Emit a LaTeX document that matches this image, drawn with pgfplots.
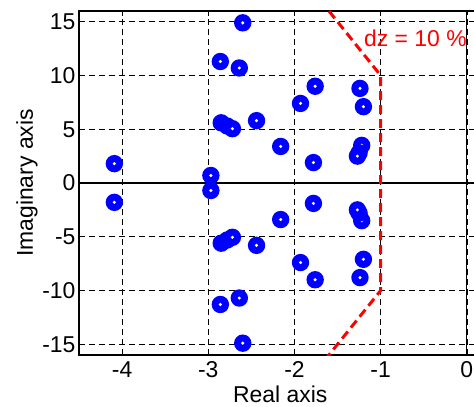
\documentclass[border=0pt]{standalone}
\usepackage{fontspec}
\setmainfont{Liberation Sans}
\usepackage{pgfplots}
\pgfplotsset{compat=1.18}
\pgfdeclareplotmark{ring}{%
  \pgfpathcircle{\pgfpointorigin}{8.7bp}%
  \pgfsetfillcolor{blue}\pgfusepath{fill}%
  \pgfpathcircle{\pgfpointorigin}{1.7bp}%
  \pgfsetfillcolor{white}\pgfusepath{fill}}
\begin{document}
\begin{tikzpicture}
\begin{scope}
\clip (-79bp,-52bp) rectangle (395bp,355bp);
\begin{axis}[
  scale only axis,
  width=402.5bp, height=344bp,
  xmin=-4.5, xmax=0.17, ymin=-16, ymax=16,
  xtick={-4,-3,-2,-1,0}, ytick={-15,-10,-5,0,5,10,15},
  /pgf/number format/assume math mode=true,
  tick label style={font=\fontsize{23}{27}\selectfont},
  xticklabel style={yshift=-3bp},
  label style={font=\fontsize{23}{27}\selectfont},
  xlabel={Real axis}, ylabel={Imaginary axis},
  xlabel style={at={(axis description cs:0.5,0)}, anchor=base, yshift=-47bp},
  ylabel style={at={(axis description cs:-0.1143,0.5)}, anchor=base},
  grid=major,
  major grid style={black, line width=0.6bp, dash pattern=on 6bp off 4bp},
  axis line style={black, line width=1.2bp},
  tick style={black, line width=0.8bp},
  major tick length=5bp,
  tick align=inside,
  clip=true,
]
\addplot[only marks, mark=ring] coordinates {
(-2.60,14.9) (-2.86,11.3) (-2.64,10.7) (-1.76,9.0) (-1.93,7.4) (-1.24,8.8) (-1.20,7.1)
(-2.44,5.8) (-2.85,5.6) (-2.78,5.3) (-2.72,5.05) (-2.16,3.4) (-1.78,1.9)
(-1.22,3.5) (-1.25,2.8) (-1.27,2.5) (-4.09,1.8) (-2.97,0.7)
(-2.60,-14.9) (-2.86,-11.3) (-2.64,-10.7) (-1.76,-9.0) (-1.93,-7.4) (-1.24,-8.8) (-1.20,-7.1)
(-2.44,-5.8) (-2.85,-5.6) (-2.78,-5.3) (-2.72,-5.05) (-2.16,-3.4) (-1.78,-1.9)
(-1.22,-3.5) (-1.25,-2.8) (-1.27,-2.5) (-4.09,-1.8) (-2.97,-0.7)
};
\addplot[black, line width=1.2bp] coordinates {(-4.5,0) (0.17,0)};
\addplot[black, line width=1.2bp] coordinates {(0,-16) (0,16)};
\addplot[red, line width=3bp, dash pattern=on 9bp off 5bp] coordinates {(-1.7,17) (-1,10) (-1,-10) (-1.7,-17)};
\node[red, anchor=base east, inner sep=0pt, font=\fontsize{23}{27}\selectfont] at (axis cs:0,12.7) {dz = 10 \%};
\end{axis}
\end{scope}
\pgfresetboundingbox
\path[use as bounding box] (-79bp,-52bp) rectangle (395bp,355bp);
\end{tikzpicture}
\end{document}
